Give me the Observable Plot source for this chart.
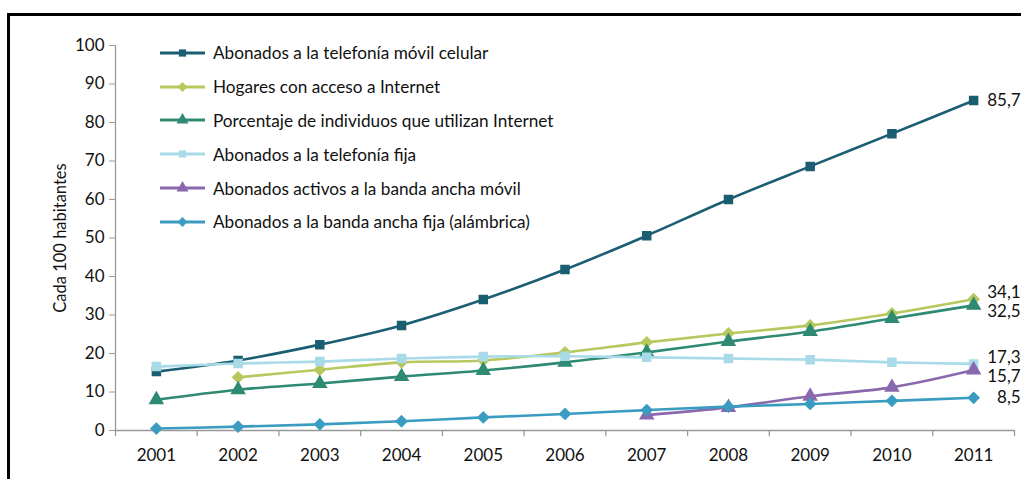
<!DOCTYPE html>
<html>
<head>
<meta charset="utf-8">
<script src="https://cdn.jsdelivr.net/npm/d3@7"></script>
<script src="https://cdn.jsdelivr.net/npm/@observablehq/plot@0.6"></script>
<style>
  html, body { margin: 0; padding: 0; background: #fff; }
  body { width: 1021px; height: 479px; position: relative; overflow: hidden; font-family: Lato, "Open Sans", sans-serif; }
  #frame { position: absolute; left: 7px; top: 13px; width: 1020px; height: 470px; border-top: 3px solid #000; border-left: 3px solid #000; pointer-events: none; }
  #legend { position: absolute; left: 160px; top: 36px; }
  .row { display: flex; align-items: center; height: 33.8px; font-size: 17.2px; color: #111; }
  .row svg { margin-right: 8px; }
  #chart { position: absolute; left: 0; top: 0; }
</style>
</head>
<body>
<div id="chart"></div>
<div id="legend"></div>
<div id="frame"></div>
<script>
const years = [2001, 2002, 2003, 2004, 2005, 2006, 2007, 2008, 2009, 2010, 2011];
const movilCelular = [15.3, 18.2, 22.3, 27.3, 34.0, 41.8, 50.6, 60.0, 68.6, 77.1, 85.7];
const hogaresInternet = [null, 13.8, 15.8, 17.7, 18.2, 20.3, 22.9, 25.2, 27.3, 30.4, 34.1];
const individuosInternet = [8.0, 10.6, 12.2, 14.0, 15.6, 17.7, 20.3, 23.1, 25.7, 29.1, 32.5];
const telefoniaFija = [16.6, 17.4, 17.9, 18.7, 19.2, 19.3, 19.0, 18.7, 18.4, 17.7, 17.3];
const bandaAnchaMovil = [null, null, null, null, null, null, 4.0, 6.0, 8.9, 11.2, 15.7];
const bandaAnchaFija = [0.5, 1.0, 1.6, 2.4, 3.4, 4.3, 5.3, 6.2, 6.9, 7.7, 8.5];
const endLabels = ["85,7", "34,1", "32,5", "17,3", "15,7", "8,5"];
const seriesNames = [
  "Abonados a la telefonía móvil celular",
  "Hogares con acceso a Internet",
  "Porcentaje de individuos que utilizan Internet",
  "Abonados a la telefonía fija",
  "Abonados activos a la banda ancha móvil",
  "Abonados a la banda ancha fija (alámbrica)"
];
const yTicks = [0, 10, 20, 30, 40, 50, 60, 70, 80, 90, 100];
const yLabel = "Cada 100 habitantes";

const seriesValues = [movilCelular, hogaresInternet, individuosInternet, telefoniaFija, bandaAnchaMovil, bandaAnchaFija];
const colors = ["#1b5e72", "#b6c85e", "#2e8a72", "#a8dbe7", "#8a68ad", "#3a9cc0"];
const symbols = ["square", "diamond2", "triangle", "square", "triangle", "diamond2"];

const series = seriesNames.map((name, i) => ({
  name, color: colors[i], symbol: symbols[i], label: endLabels[i],
  data: years.map((y, j) => ({year: y, value: seriesValues[i][j]})).filter(d => d.value != null)
}));

// end labels with simple collision avoidance (min gap in data units)
const ends = series.map(s => ({...s.data[s.data.length - 1], label: s.label, pos: s.data[s.data.length - 1].value}));
const sortedEnds = [...ends].sort((a, b) => b.value - a.value);
const minGap = 5;
for (let i = 0; i < sortedEnds.length - 1; i++) {
  const a = sortedEnds[i], b = sortedEnds[i + 1];
  if (a.pos - b.pos < minGap) {
    const c = (a.pos + b.pos) / 2;
    a.pos = c + minGap / 2;
    b.pos = c - minGap / 2;
  }
}

const bandEdges = d3.range(years[0] - 0.5, years[years.length - 1] + 1, 1);

const marks = [
  Plot.axisY({ticks: yTicks, tickSize: 6, tickPadding: 5, fontSize: 17, label: null, stroke: "#999", color: "#111"}),
  Plot.axisX({ticks: years, tickSize: 0, tickPadding: 18, fontSize: 17, tickFormat: d => String(d), label: null, color: "#111"}),
  Plot.text([yLabel], {frameAnchor: "left", rotate: -90, dx: -55, textAnchor: "middle", fontSize: 16.5, fill: "#111", text: d => d}),
  Plot.ruleX(bandEdges, {x: d => d, y1: 0, y2: -1.6, stroke: "#999", strokeWidth: 1.3}),
  Plot.ruleY([0], {x1: bandEdges[0], x2: bandEdges[bandEdges.length - 1], stroke: "#999", strokeWidth: 1.3}),
  Plot.ruleX([bandEdges[0]], {y1: 0, y2: 100, stroke: "#999", strokeWidth: 1.3})
];
for (const s of series) {
  marks.push(Plot.line(s.data, {x: "year", y: "value", stroke: s.color, strokeWidth: 2.6, curve: "catmull-rom"}));
  marks.push(Plot.dot(s.data, {x: "year", y: "value", fill: s.color, stroke: s.color, symbol: () => s.symbol, r: s.symbol === "square" ? 4.5 : 4.8}));
}
marks.push(Plot.text(ends, {x: "year", y: "pos", text: "label", textAnchor: "end", dx: 47, fontSize: 17, fill: "#111"}));

const chart = Plot.plot({
  width: 1021,
  height: 479,
  marginLeft: 115,
  marginRight: 7,
  marginTop: 45,
  marginBottom: 49,
  style: {fontFamily: "Lato, 'Open Sans', sans-serif", background: "transparent", overflow: "visible"},
  x: {type: "linear", domain: [bandEdges[0], bandEdges[bandEdges.length - 1]]},
  y: {domain: [0, 100]},
  symbol: {type: "identity"},
  marks
});
document.getElementById("chart").appendChild(chart);

// legend
const legend = document.getElementById("legend");
for (const s of series) {
  const row = document.createElement("div");
  row.className = "row";
  const w = 45, h = 14;
  const sym = d3.symbol(s.symbol === "square" ? d3.symbolSquare : s.symbol === "triangle" ? d3.symbolTriangle : d3.symbolDiamond2, s.symbol === "square" ? 52 : 62)();
  row.innerHTML = `<svg width="${w}" height="${h}"><line x1="0" x2="${w}" y1="${h/2}" y2="${h/2}" stroke="${s.color}" stroke-width="3"/><path d="${sym}" transform="translate(${w/2},${h/2})" fill="${s.color}"/></svg><span>${s.name}</span>`;
  legend.appendChild(row);
}
</script>
</body>
</html>
